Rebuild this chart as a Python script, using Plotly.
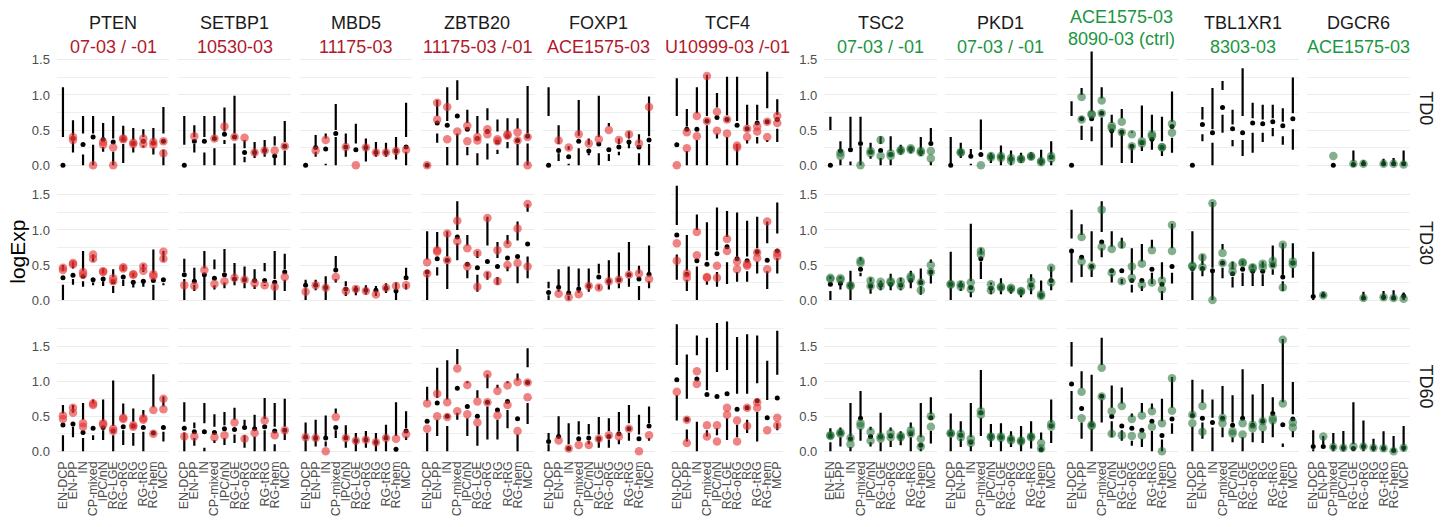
import plotly.graph_objects as go

W, H = 1445, 527
FONT = "Liberation Sans, Arial, sans-serif"

CATS = ["EN-DCP", "EN-PP", "IN", "CP-mixed", "IPC/nN", "RG-LGE", "RG-oRG", "RG", "RG-tRG", "RG-hem", "MCP"]
CATS_TSC2 = ["EN-EN", "EN-PP", "IN", "CP-mixed", "IPC/nN", "RG-LGE", "RG-oRG", "RG", "RG-tRG", "RG-hem", "MCP"]
CATS_DGCR6 = ["EN-DCP", "EN-PP", "CP-mixed", "IPC/nN", "RG-LGE", "RG-oRG", "RG", "RG-tRG", "RG-hem", "MCP"]

TIMES = ["TD0", "TD30", "TD60"]
GENE_NAMES = ["PTEN", "SETBP1", "MBD5", "ZBTB20", "FOXP1", "TCF4", "TSC2", "PKD1", "", "TBL1XR1", "DGCR6"]
SUBTITLES = ["07-03 / -01", "10530-03", "11175-03", "11175-03 /-01", "ACE1575-03", "U10999-03 /-01",
             "07-03 / -01", "07-03 / -01", "8090-03 (ctrl)", "8303-03", "ACE1575-03"]
ACE_TOPLINE = "ACE1575-03"

# box tuples: (lower whisker, Q1, median, Q3, upper whisker); PTS: sample values
PTEN_TD0_BOX = [(0,0,0,0.40,1.11),(0.18,0.34,0.38,0.42,0.64),(0,0.15,0.295,0.45,0.70),(0,0.29,0.40,0.45,0.70),
    (0.19,0.26,0.365,0.40,0.60),(0,0.19,0.33,0.38,0.70),(0.03,0.30,0.37,0.40,0.56),(0.18,0.26,0.31,0.36,0.53),
    (0.25,0.28,0.34,0.40,0.51),(0.15,0.25,0.32,0.36,0.53),(0,0.22,0.34,0.45,0.83)]
PTEN_TD0_PTS = [(),(0.40,0.36),(),(0.0,),(0.33,0.29),(0.25,0.0),(0.38,0.37),(0.32,0.30),(0.38,0.30),(0.33,0.29),(0.34,0.17)]
SETBP1_TD0_BOX = [(0,0,0,0.29,0.70),(0.18,0.30,0.34,0.40,0.57),(0,0.18,0.34,0.40,0.70),(0,0.24,0.38,0.42,0.70),
    (0.30,0.36,0.44,0.48,0.82),(0,0.31,0.40,0.45,0.99),(0.04,0.12,0.18,0.24,0.36),(0.10,0.16,0.18,0.20,0.33),
    (0.12,0.18,0.21,0.23,0.36),(0,0.10,0.13,0.28,0.41),(0,0.21,0.27,0.33,0.63)]
SETBP1_TD0_PTS = [(),(0.41,),(),(0.38,),(0.55,),(0.40,),(0.39,),(0.18,),(0.21,),(0.21,),(0.27,)]
MBD5_TD0_BOX = [(0,0,0,0,0),(0.12,0.19,0.25,0.28,0.43),(0,0.02,0.23,0.38,0.45),(0,0.40,0.45,0.50,0.87),
    (0.12,0.22,0.26,0.30,0.45),(0.18,0.18,0.22,0.31,0.59),(0.05,0.22,0.25,0.28,0.38),(0.12,0.15,0.18,0.21,0.33),
    (0.12,0.15,0.18,0.21,0.32),(0.08,0.17,0.20,0.23,0.40),(0,0.19,0.26,0.40,0.89)]
MBD5_TD0_PTS = [(),(0.21,),(0.36,),(),(0.26,),(0.0,),(0.25,),(0.18,),(0.18,),(0.20,),(0.22,)]
ZBTB20_TD0_BOX = [(0,0,0,0,0),(0.32,0.45,0.60,0.70,0.93),(0,0.26,0.57,0.63,1.11),(0,0.45,0.70,0.93,1.21),
    (0.14,0.26,0.51,0.60,0.79),(0,0.17,0.38,0.45,0.70),(0.08,0.31,0.48,0.64,0.81),(0.16,0.22,0.33,0.48,0.65),
    (0.24,0.33,0.41,0.45,0.67),(0,0.30,0.35,0.52,0.67),(0,0.31,0.41,0.45,1.13)]
ZBTB20_TD0_PTS = [(0.0,),(0.89,0.65),(0.83,0.37),(0.48,),(0.56,0.34),(0.40,0.35),(0.51,0.44),(0.37,0.34),(0.44,0.42),(0.47,0.35),(0.40,0.0)]
FOXP1_TD0_BOX = [(0,0,0,0.70,1.11),(0.06,0.17,0.21,0.30,0.57),(0,0.02,0.12,0.22,0.27),(0,0.24,0.34,0.42,0.93),
    (0.14,0.17,0.20,0.29,0.38),(0,0.17,0.30,0.40,0.99),(0.06,0.16,0.22,0.55,0.60),(0.14,0.19,0.26,0.30,0.38),
    (0.24,0.30,0.33,0.38,0.48),(0,0.17,0.26,0.31,0.44),(0,0.30,0.36,0.41,0.98)]
FOXP1_TD0_PTS = [(),(0.35,),(0.25,),(0.44,),(0.31,),(0.37,),(0.50,),(0.36,),(0.44,),(0.31,),(0.83,)]
TCF4_TD0_BOX = [(0.29,0.29,0.29,0.70,1.24),(0,0.20,0.51,0.55,0.80),(0,0.36,0.51,0.74,1.11),(0,0.57,0.63,0.70,1.29),
    (0.38,0.45,0.68,0.82,1.03),(0,0.40,0.65,0.71,1.26),(0,0.30,0.57,0.63,1.26),(0.31,0.36,0.52,0.57,0.86),
    (0.31,0.40,0.60,0.64,0.86),(0.33,0.36,0.62,0.81,1.33),(0.33,0.52,0.65,0.72,0.94)]
TCF4_TD0_PTS = [(0.0,),(0.47,0.24),(0.70,0.41),(1.27,0.63),(0.76,0.49),(0.65,0.45),(0.28,0.25),(0.52,0.40),(0.55,0.48),(0.62,0.40),(0.70,0.60)]
TSC2_TD0_BOX = [(0,0,0,0.50,0.69),(0,0.08,0.20,0.22,0.34),(0,0.05,0.22,0.25,0.69),(0,0.27,0.31,0.34,0.69),
    (0.09,0.13,0.19,0.23,0.32),(0,0.10,0.21,0.30,0.41),(0,0.08,0.15,0.20,0.41),(0.15,0.19,0.21,0.24,0.29),
    (0.17,0.20,0.23,0.25,0.27),(0.13,0.16,0.185,0.22,0.40),(0,0.05,0.31,0.34,0.53)]
TSC2_TD0_PTS = [(),(0.175,0.13),(),(0.0,),(0.20,0.17),(0.36,0.13),(0.17,0.13),(0.22,0.20),(0.24,0.22),(0.20,0.18),(0.20,0.095)]
PKD1_TD0_BOX = [(0,0,0,0.02,0.40),(0.10,0.16,0.185,0.20,0.32),(0,0.02,0.125,0.15,0.23),(0.12,0.12,0.15,0.22,0.65),
    (0.03,0.09,0.12,0.14,0.175),(0,0.10,0.12,0.15,0.28),(0,0.06,0.09,0.12,0.21),(0.03,0.07,0.09,0.11,0.175),
    (0.08,0.10,0.125,0.14,0.185),(0,0.03,0.05,0.08,0.22),(0,0.06,0.12,0.16,0.34)]
PKD1_TD0_PTS = [(),(0.185,0.18),(),(0.0,),(0.13,0.11),(0.13,0.10),(0.10,0.06),(0.09,0.085),(0.13,0.12),(0.06,0.04),(0.13,0.09)]
ACE_TD0_BOX = [(0,0,0,0.70,0.91),(0.36,0.56,0.66,1.0,1.10),(0.34,0.55,0.66,0.76,1.62),(0,0.68,0.74,0.95,1.11),
    (0.25,0.46,0.49,0.60,0.72),(0.03,0.44,0.47,0.67,0.80),(0.03,0.24,0.27,0.46,0.48),(0.20,0.27,0.32,0.39,0.85),
    (0.22,0.34,0.37,0.46,0.72),(0.13,0.20,0.25,0.34,0.69),(0.175,0.39,0.55,0.62,1.05)]
ACE_TD0_PTS = [(),(0.97,0.65),(0.73,0.72),(0.92,0.74),(0.56,0.53),(0.62,0.47),(0.44,0.27),(0.34,0.31),(0.44,0.41),(0.26,0.25),(0.59,0.46)]
TBL1XR1_TD0_BOX = [(0,0,0,0,0),(0.34,0.44,0.58,0.65,0.83),(0,0.32,0.46,0.51,1.10),(0.46,0.72,0.82,1.07,1.20),
    (0.27,0.36,0.52,0.58,0.79),(0.13,0.36,0.46,0.70,1.38),(0.175,0.46,0.60,0.67,0.89),(0.33,0.46,0.59,0.65,0.86),
    (0.41,0.53,0.62,0.67,0.86),(0.29,0.41,0.56,0.62,0.81),(0.22,0.51,0.66,0.74,1.25)]
TBL1XR1_TD0_PTS = [(),(),(),(),(),(),(),(),(),(),()]
DGCR6_TD0_BOX = [None,None,(0,0,0,0,0),None,(0,0,0.01,0.05,0.21),(0,0,0.02,0.04,0.07),None,
    (0,0,0.02,0.04,0.09),(0,0,0.02,0.04,0.10),(0,0,0.02,0.05,0.21)]
DGCR6_TD0_PTS = [(),(),(0.13,),(),(0.02,),(0.02,),(),(0.02,),(0.02,),(0.01,)]

PTEN_TD30_BOX = [(0,0.22,0.32,0.42,0.50),(0.22,0.30,0.355,0.45,0.55),(0.19,0.27,0.34,0.42,0.70),(0.21,0.25,0.29,0.55,0.65),
    (0.20,0.27,0.30,0.38,0.45),(0.10,0.20,0.26,0.33,0.44),(0.20,0.29,0.33,0.42,0.50),(0.18,0.24,0.255,0.33,0.39),
    (0.19,0.25,0.27,0.40,0.51),(0,0.22,0.28,0.38,0.72),(0.21,0.24,0.29,0.55,0.70)]
PTEN_TD30_PTS = [(0.46,0.43),(0.53,0.51),(0.40,0.36),(0.65,0.59),(0.41,0.40),(0.31,0.27),(0.47,0.45),(0.37,0.36),(0.48,0.42),(0.37,0.34),(0.69,0.59)]
SETBP1_TD30_BOX = [(0,0.30,0.36,0.40,0.59),(0.13,0.22,0.27,0.30,0.46),(0,0.33,0.36,0.45,0.70),(0.15,0.21,0.31,0.44,0.58),
    (0.17,0.25,0.36,0.40,0.73),(0.21,0.27,0.30,0.34,0.53),(0.17,0.25,0.29,0.32,0.48),(0.16,0.21,0.28,0.31,0.44),
    (0.20,0.22,0.28,0.41,0.53),(0,0.21,0.255,0.30,0.70),(0.13,0.29,0.40,0.44,0.66)]
SETBP1_TD30_PTS = [(0.21,),(0.20,),(0.43,),(0.23,),(0.27,),(0.32,),(0.29,),(0.24,),(0.21,),(0.19,),(0.33,)]
MBD5_TD30_BOX = [(0,0.17,0.21,0.24,0.29),(0.14,0.17,0.21,0.23,0.29),(0,0.15,0.18,0.20,0.34),(0.25,0.30,0.43,0.46,0.63),
    (0.06,0.12,0.16,0.20,0.27),(0.07,0.12,0.15,0.17,0.20),(0.08,0.11,0.14,0.17,0.21),(0.06,0.10,0.14,0.16,0.20),
    (0.10,0.15,0.17,0.19,0.24),(0,0.10,0.13,0.15,0.25),(0.15,0.23,0.32,0.34,0.46)]
MBD5_TD30_PTS = [(0.12,),(0.21,),(0.175,),(0.33,),(0.13,),(0.16,),(0.13,),(0.08,),(0.175,),(0.20,),(0.21,)]
ZBTB20_TD30_BOX = [(0,0.36,0.40,0.58,0.98),(0.35,0.47,0.59,0.74,0.97),(0.16,0.52,0.57,0.62,0.98),(0.57,0.81,0.90,1.00,1.41),
    (0.31,0.43,0.51,0.78,0.93),(0.12,0.36,0.46,0.60,0.70),(0.29,0.40,0.55,0.78,1.19),(0.22,0.33,0.48,0.60,0.83),
    (0.41,0.48,0.60,0.80,0.93),(0.24,0.48,0.62,0.85,1.12),(0.31,0.62,0.80,1.26,1.37)]
ZBTB20_TD30_PTS = [(0.54,0.38),(0.71,0.69),(0.95,0.57),(1.13,0.84),(0.74,0.48),(0.67,0.19),(1.17,0.36),(0.71,0.27),(0.80,0.50),(1.02,0.53),(1.37,0.48)]
FOXP1_TD30_BOX = [(0,0.07,0.11,0.17,0.26),(0.12,0.15,0.185,0.21,0.44),(0,0.06,0.10,0.12,0.48),(0.10,0.13,0.16,0.19,0.45),
    (0.12,0.17,0.20,0.22,0.45),(0.15,0.22,0.33,0.38,0.52),(0.15,0.24,0.27,0.30,0.57),(0.17,0.24,0.29,0.33,0.68),
    (0.19,0.31,0.36,0.42,0.83),(0,0.20,0.30,0.38,0.49),(0.17,0.27,0.37,0.40,0.78)]
FOXP1_TD30_PTS = [(),(0.09,),(0.04,),(0.085,),(0.20,),(0.18,),(0.27,),(0.29,),(0.36,),(0.38,),(0.30,)]
TCF4_TD30_BOX = [(0.29,0.65,0.93,1.07,1.63),(0.13,0.29,0.37,0.42,0.93),(0,0.48,0.56,1.00,1.22),(0.22,0.27,0.51,0.57,1.11),
    (0.19,0.40,0.66,0.71,1.32),(0.23,0.54,0.76,0.90,1.27),(0.26,0.40,0.59,0.62,1.25),(0.26,0.41,0.56,0.62,1.13),
    (0.38,0.55,0.69,0.74,1.19),(0.16,0.41,0.57,0.81,1.12),(0.38,0.60,0.70,0.95,1.39)]
TCF4_TD30_PTS = [(0.81,0.56),(0.38,0.32),(0.97,0.64),(0.33,0.32),(0.49,0.32),(0.87,0.70),(0.55,0.44),(0.51,0.49),(0.68,0.60),(1.12,0.44),(0.67,0.62)]
TSC2_TD30_BOX = [(0,0.13,0.225,0.30,0.34),(0.15,0.20,0.235,0.30,0.34),(0,0.19,0.21,0.23,0.42),(0.34,0.39,0.44,0.56,0.61),
    (0.09,0.17,0.20,0.26,0.32),(0.14,0.19,0.215,0.25,0.28),(0.14,0.20,0.225,0.28,0.375),(0.14,0.17,0.21,0.26,0.32),
    (0.17,0.25,0.28,0.34,0.42),(0.075,0.20,0.25,0.29,0.45),(0.235,0.37,0.40,0.53,0.58)]
TSC2_TD30_PTS = [(0.32,0.30),(0.31,0.29),(0.20,0.21),(0.56,0.53),(0.28,0.20),(0.26,0.20),(0.27,0.25),(0.27,0.20),(0.34,0.31),(0.25,0.14),(0.50,0.40)]
PKD1_TD30_BOX = [(0,0.18,0.225,0.27,0.69),(0.13,0.17,0.21,0.24,0.27),(0.04,0.12,0.18,0.27,1.09),(0.30,0.55,0.59,0.66,0.74),
    (0.085,0.14,0.17,0.22,0.25),(0.085,0.15,0.18,0.22,0.31),(0.09,0.13,0.155,0.18,0.20),(0.04,0.10,0.12,0.14,0.15),
    (0.085,0.17,0.21,0.27,0.37),(0.02,0.04,0.07,0.12,0.28),(0.14,0.23,0.28,0.32,0.48)]
PKD1_TD30_PTS = [(0.23,0.22),(0.225,0.19),(0.25,0.155),(0.70,0.65),(0.225,0.14),(0.19,0.18),(0.175,0.16),(0.13,0.12),(0.27,0.19),(0.085,0.06),(0.46,0.25)]
ACE_TD30_BOX = [(0.25,0.67,0.70,0.88,1.29),(0.33,0.51,0.61,0.93,1.08),(0.33,0.44,0.48,0.55,0.98),(0.61,0.74,0.83,0.97,1.41),
    (0.25,0.37,0.42,0.76,0.98),(0.23,0.30,0.42,0.74,0.89),(0.11,0.22,0.28,0.36,0.74),(0.13,0.20,0.28,0.55,0.80),
    (0.23,0.39,0.44,0.74,0.86),(0,0.13,0.225,0.30,0.54),(0.235,0.39,0.48,0.74,1.09)]
ACE_TD30_PTS = [(),(0.90,0.55),(0.48,),(1.29,0.76),(0.73,0.39),(0.79,0.27),(0.48,0.32),(0.52,0.22),(0.71,0.25),(0.28,0.155),(1.07,0.70)]
TBL1XR1_TD30_BOX = [(0,0.41,0.45,0.52,0.98),(0.34,0.42,0.45,0.50,0.65),(0,0.39,0.42,0.46,1.40),(0.31,0.46,0.53,0.72,0.80),
    (0.18,0.33,0.375,0.44,0.55),(0.20,0.39,0.44,0.50,0.56),(0.20,0.38,0.41,0.46,0.51),(0.20,0.37,0.41,0.46,0.55),
    (0.36,0.44,0.50,0.56,0.78),(0.13,0.27,0.33,0.36,0.81),(0.32,0.46,0.53,0.58,0.81)]
TBL1XR1_TD30_PTS = [(0.49,0.48),(0.61,0.47),(1.38,0.0),(0.67,0.53),(0.49,0.41),(0.54,0.53),(0.47,0.45),(0.52,0.47),(0.56,0.50),(0.79,0.18),(0.55,0.51)]
DGCR6_TD30_BOX = [(0,0.02,0.05,0.08,0.69),(0.05,0.06,0.07,0.09,0.12),None,None,None,(0,0.02,0.03,0.05,0.12),None,
    (0,0.02,0.04,0.06,0.13),(0,0.02,0.03,0.05,0.14),(0,0.03,0.06,0.08,0.11)]
DGCR6_TD30_PTS = [(),(0.07,),(),(),(),(0.03,),(),(0.04,),(0.03,),(0.02,)]

PTEN_TD60_BOX = [(0,0.23,0.375,0.54,0.66),(0.20,0.35,0.39,0.55,0.66),(0,0.19,0.27,0.45,0.69),(0.16,0.23,0.33,0.68,0.74),
    (0.16,0.30,0.34,0.43,0.74),(0,0.23,0.29,0.36,1.01),(0.09,0.30,0.35,0.52,0.68),(0.08,0.26,0.36,0.42,0.61),
    (0,0.28,0.34,0.49,0.59),(0.21,0.21,0.26,0.63,1.10),(0.14,0.28,0.34,0.64,0.78)]
PTEN_TD60_PTS = [(0.51,0.46),(0.62,0.55),(0.40,0.35),(0.68,0.66),(0.40,0.38),(0.32,0.29),(0.48,0.46),(0.37,0.35),(0.47,0.45),(0.59,0.25),(0.75,0.60)]
SETBP1_TD60_BOX = [(0,0.27,0.33,0.42,0.70),(0.08,0.19,0.28,0.33,0.41),(0,0.05,0.28,0.40,0.69),(0.12,0.16,0.27,0.35,0.53),
    (0.09,0.19,0.32,0.37,0.56),(0.12,0.24,0.31,0.45,0.62),(0.05,0.23,0.34,0.37,0.45),(0,0.21,0.32,0.34,0.52),
    (0,0.30,0.35,0.46,0.76),(0,0.10,0.29,0.35,0.69),(0.16,0.26,0.30,0.35,0.75)]
SETBP1_TD60_PTS = [(0.21,),(0.21,),(),(0.20,),(0.23,),(0.41,),(0.18,),(0.26,),(0.44,),(0.23,),(0.30,)]
MBD5_TD60_BOX = [(0,0.16,0.20,0.23,0.41),(0.07,0.16,0.19,0.22,0.45),(0.07,0.14,0.19,0.22,0.51),(0.19,0.30,0.34,0.54,0.61),
    (0.05,0.14,0.19,0.22,0.37),(0,0.12,0.15,0.18,0.26),(0.05,0.13,0.165,0.19,0.29),(0,0.10,0.13,0.16,0.26),
    (0,0.15,0.19,0.22,0.38),(0,0.01,0.03,0.22,0.70),(0.16,0.21,0.29,0.33,0.57)]
MBD5_TD60_PTS = [(0.20,),(0.19,),(0.0,),(0.49,),(0.19,),(0.15,),(0.165,),(0.13,),(0.19,),(0.18,),(0.245,)]
ZBTB20_TD60_BOX = [(0,0.26,0.43,0.72,0.92),(0.22,0.45,0.69,0.76,1.19),(0,0.36,0.50,0.74,1.30),(0.45,0.55,0.90,1.24,1.46),
    (0.22,0.47,0.64,0.97,1.00),(0.08,0.36,0.50,0.76,0.87),(0.17,0.64,0.70,0.90,1.10),(0.17,0.45,0.59,0.90,0.95),
    (0.33,0.59,0.71,0.97,1.00),(0,0.24,0.465,1.01,1.11),(0.39,0.69,0.98,1.20,1.47)]
ZBTB20_TD60_PTS = [(0.68,0.32),(0.82,0.50),(0.70,0.49),(1.18,0.57),(0.945,0.53),(0.71,0.41),(1.10,0.70),(0.86,0.51),(0.94,0.66),(0.99,0.29),(0.98,0.77)]
FOXP1_TD60_BOX = [(0,0.10,0.14,0.17,0.26),(0.12,0.12,0.21,0.23,0.50),(0.02,0.02,0.04,0.10,0.40),(0.12,0.12,0.18,0.24,0.43),
    (0.10,0.15,0.19,0.24,0.39),(0.05,0.15,0.18,0.24,0.49),(0.05,0.17,0.21,0.29,0.47),(0.10,0.17,0.25,0.29,0.56),
    (0.15,0.26,0.32,0.40,0.66),(0.13,0.13,0.18,0.24,0.52),(0.15,0.19,0.36,0.40,0.64)]
FOXP1_TD60_PTS = [(),(0.155,),(0.04,),(0.09,),(0.09,),(0.18,),(0.23,),(0.21,),(0.32,),(0.0,),(0.23,)]
TCF4_TD60_BOX = [(0.44,0.80,1.02,1.23,1.81),(0.14,0.31,0.455,0.75,1.38),(0,0.42,1.03,1.37,1.65),(0.21,0.30,0.81,0.87,1.62),
    (0.23,0.33,0.78,1.13,1.83),(0.16,0.47,0.82,1.16,1.85),(0.20,0.38,0.60,0.82,1.63),(0.26,0.45,0.62,0.82,1.67),
    (0.14,0.56,0.72,0.97,1.65),(0.40,0.40,0.48,0.73,1.29),(0.30,0.40,0.76,1.09,1.72)]
TCF4_TD60_PTS = [(0.85,),(0.45,0.12),(1.14,0.96),(0.37,0.21),(0.37,0.14),(0.62,0.52),(0.44,0.14),(0.62,0.36),(0.70,0.62),(0.30,),(0.48,0.37)]
TSC2_TD60_BOX = [(0,0.13,0.22,0.25,0.33),(0.07,0.20,0.26,0.29,0.34),(0,0.06,0.18,0.22,0.69),(0.15,0.32,0.47,0.50,0.86),
    (0.07,0.13,0.21,0.30,0.35),(0,0.13,0.21,0.25,0.55),(0.06,0.15,0.22,0.29,0.34),(0.085,0.18,0.21,0.25,0.285),
    (0,0.20,0.25,0.33,0.41),(0,0.04,0.085,0.20,0.69),(0.11,0.29,0.48,0.53,0.77)]
TSC2_TD60_PTS = [(0.23,0.22),(0.27,0.25),(0.19,0.10),(0.40,0.36),(0.28,0.15),(0.21,0.18),(0.26,0.20),(0.22,0.20),(0.30,0.25),(0.18,0.07),(0.50,0.35)]
PKD1_TD60_BOX = [(0,0.20,0.25,0.29,0.54),(0.06,0.18,0.23,0.27,0.43),(0,0.08,0.13,0.20,0.69),(0.22,0.48,0.55,0.60,1.16),
    (0.06,0.18,0.21,0.24,0.39),(0,0.15,0.20,0.24,0.40),(0.06,0.13,0.175,0.21,0.285),(0,0.11,0.145,0.17,0.36),
    (0.04,0.18,0.21,0.24,0.43),(0,0,0.025,0.16,0.27),(0.12,0.29,0.36,0.41,0.74)]
PKD1_TD60_PTS = [(0.26,0.25),(0.25,0.20),(0.18,0.12),(0.57,0.52),(0.21,0.20),(0.21,0.19),(0.18,0.155),(0.155,0.14),(0.21,0.20),(0.12,0.04),(0.39,0.35)]
ACE_TD60_BOX = [(0.46,0.86,0.96,1.21,1.56),(0.18,0.41,0.61,0.90,1.14),(0,0.32,0.38,0.41,1.09),(0.41,0.74,0.785,1.23,1.62),
    (0.20,0.43,0.495,0.62,0.94),(0.15,0.30,0.36,0.68,0.91),(0.08,0.15,0.33,0.49,0.54),(0.06,0.18,0.30,0.55,0.69),
    (0,0.29,0.43,0.60,0.68),(0,0.17,0.225,0.43,0.75),(0.25,0.40,0.46,0.62,1.06)]
ACE_TD60_PTS = [(),(0.85,0.47),(0.38,0.36),(1.19,0.78),(0.57,0.25),(0.645,0.23),(0.46,0.22),(0.51,0.225),(0.57,0.35),(0.40,0.0),(1.04,0.58)]
TBL1XR1_TD60_BOX = [(0,0.35,0.51,0.55,1.02),(0.18,0.41,0.47,0.69,0.88),(0,0.34,0.41,0.48,0.74),(0.20,0.34,0.47,0.53,0.93),
    (0.13,0.20,0.37,0.41,0.80),(0,0.20,0.47,0.50,1.17),(0.13,0.27,0.37,0.41,0.81),(0.12,0.29,0.43,0.46,0.96),
    (0.20,0.41,0.54,0.56,0.77),(0.06,0.11,0.38,0.70,1.60),(0.20,0.29,0.46,0.53,0.99)]
TBL1XR1_TD60_PTS = [(0.52,0.40),(0.645,0.28),(),(0.48,0.40),(0.285,0.25),(0.40,0.24),(0.38,0.33),(0.43,0.34),(0.47,0.44),(1.59,0.68),(0.41,0.34)]
DGCR6_TD60_BOX = [(0,0.03,0.07,0.10,0.30),(0.05,0.06,0.07,0.10,0.22),(0,0.04,0.06,0.10,0.26),(0,0.03,0.05,0.08,0.29),
    (0,0.02,0.04,0.10,0.70),(0,0.05,0.07,0.10,0.44),(0,0.03,0.05,0.08,0.18),(0,0.03,0.045,0.07,0.285),
    (0,0,0.01,0.03,0.22),(0,0.03,0.05,0.09,0.36)]
DGCR6_TD60_PTS = [(),(0.21,),(0.06,),(0.05,),(0.07,),(0.07,),(0.05,),(0.045,),(0.0,),(0.05,)]

# ---------- tables built from the lists above ----------
CAT_SETS = [CATS] * 6 + [CATS_TSC2, CATS, CATS, CATS, CATS_DGCR6]
BOXES = [
    [PTEN_TD0_BOX, PTEN_TD30_BOX, PTEN_TD60_BOX],
    [SETBP1_TD0_BOX, SETBP1_TD30_BOX, SETBP1_TD60_BOX],
    [MBD5_TD0_BOX, MBD5_TD30_BOX, MBD5_TD60_BOX],
    [ZBTB20_TD0_BOX, ZBTB20_TD30_BOX, ZBTB20_TD60_BOX],
    [FOXP1_TD0_BOX, FOXP1_TD30_BOX, FOXP1_TD60_BOX],
    [TCF4_TD0_BOX, TCF4_TD30_BOX, TCF4_TD60_BOX],
    [TSC2_TD0_BOX, TSC2_TD30_BOX, TSC2_TD60_BOX],
    [PKD1_TD0_BOX, PKD1_TD30_BOX, PKD1_TD60_BOX],
    [ACE_TD0_BOX, ACE_TD30_BOX, ACE_TD60_BOX],
    [TBL1XR1_TD0_BOX, TBL1XR1_TD30_BOX, TBL1XR1_TD60_BOX],
    [DGCR6_TD0_BOX, DGCR6_TD30_BOX, DGCR6_TD60_BOX],
]
POINTS = [
    [PTEN_TD0_PTS, PTEN_TD30_PTS, PTEN_TD60_PTS],
    [SETBP1_TD0_PTS, SETBP1_TD30_PTS, SETBP1_TD60_PTS],
    [MBD5_TD0_PTS, MBD5_TD30_PTS, MBD5_TD60_PTS],
    [ZBTB20_TD0_PTS, ZBTB20_TD30_PTS, ZBTB20_TD60_PTS],
    [FOXP1_TD0_PTS, FOXP1_TD30_PTS, FOXP1_TD60_PTS],
    [TCF4_TD0_PTS, TCF4_TD30_PTS, TCF4_TD60_PTS],
    [TSC2_TD0_PTS, TSC2_TD30_PTS, TSC2_TD60_PTS],
    [PKD1_TD0_PTS, PKD1_TD30_PTS, PKD1_TD60_PTS],
    [ACE_TD0_PTS, ACE_TD30_PTS, ACE_TD60_PTS],
    [TBL1XR1_TD0_PTS, TBL1XR1_TD30_PTS, TBL1XR1_TD60_PTS],
    [DGCR6_TD0_PTS, DGCR6_TD30_PTS, DGCR6_TD60_PTS],
]

# ---------- layout geometry (pixels) ----------
RED_TXT, GREEN_TXT = "#B2182B", "#1A9641"
RED_PT, GREEN_PT = "rgba(228,48,48,0.6)", "rgba(30,110,50,0.55)"
X0 = [56, 177.5, 299, 420.7, 542.3, 670.7, 824.5, 945, 1066, 1187, 1308]
STEP = 10.06  # px per category
TOP, GAP, UNIT = 46.0, 9.3, 70.4

YR = []
for r in range(3):
    mx = max(b[4] for g in BOXES for b in g[r] if b is not None)
    mx = max(mx, max(v for g in POINTS for p in g[r] for v in p))
    YR.append([-0.05 * mx, 1.05 * mx])
Y0, Y1 = [], []
y = TOP
for r in range(3):
    h = (YR[r][1] - YR[r][0]) * UNIT
    Y0.append(y); Y1.append(y + h)
    y += h + GAP

fig = go.Figure()
lay = {}
for r in range(3):
    for c in range(11):
        k = r * 11 + c + 1
        xa = "x" if k == 1 else f"x{k}"
        ya = "y" if k == 1 else f"y{k}"
        cats = CAT_SETS[c]
        sx, sy, mx_, my_, px_, py_ = [], [], [], [], [], []
        for cat, b in zip(cats, BOXES[c][r]):
            if b is None:
                continue
            lo, q1, md, q3, hi = b
            if q1 > lo:
                sx += [cat, cat, None]; sy += [lo, q1, None]
            if hi > q3:
                sx += [cat, cat, None]; sy += [q3, hi, None]
            mx_.append(cat); my_.append(md)
        for cat, p in zip(cats, POINTS[c][r]):
            for v in p:
                px_.append(cat); py_.append(v)
        fig.add_trace(go.Scatter(x=sx, y=sy, mode="lines", line=dict(color="black", width=2.2),
                                 xaxis=xa, yaxis=ya, hoverinfo="skip", showlegend=False))
        fig.add_trace(go.Scatter(x=mx_, y=my_, mode="markers", marker=dict(color="black", size=5),
                                 xaxis=xa, yaxis=ya, showlegend=False))
        fig.add_trace(go.Scatter(x=px_, y=py_, mode="markers",
                                 marker=dict(color=RED_PT if c < 6 else GREEN_PT, size=8.5, line=dict(width=0)),
                                 xaxis=xa, yaxis=ya, showlegend=False))
        n = len(cats)
        x0 = X0[c]; x1 = x0 + (n - 1 + 1.2) * STEP
        lay["xaxis" if k == 1 else f"xaxis{k}"] = dict(
            domain=[x0 / W, x1 / W], anchor=ya, type="category", categoryorder="array",
            categoryarray=cats, range=[-0.6, n - 0.4], showgrid=False, zeroline=False, showline=False,
            tickmode="array", tickvals=cats, ticktext=cats,
            ticks="", showticklabels=(r == 2), tickangle=-90,
            tickfont=dict(size=12.5, color="#4D4D4D", family=FONT), fixedrange=True)
        lay["yaxis" if k == 1 else f"yaxis{k}"] = dict(
            domain=[1 - Y1[r] / H, 1 - Y0[r] / H], anchor=xa, range=YR[r],
            tickvals=[0, 0.5, 1.0, 1.5], ticktext=["0.0", "0.5", "1.0", "1.5"],
            showticklabels=(c in (0, 6)), ticks="", ticklabelstandoff=6,
            tickfont=dict(size=13, color="#4D4D4D", family=FONT),
            showgrid=True, gridcolor="#EBEBEB", gridwidth=1.1, zeroline=False, showline=False,
            minor=dict(dtick=0.25, tick0=0, showgrid=True, gridcolor="#EFEFEF", gridwidth=0.9),
            fixedrange=True)


def note(text, x, y, size, color, angle=0):
    return dict(text=text, x=x / W, y=1 - y / H, xref="paper", yref="paper", xanchor="center",
                yanchor="middle", showarrow=False, textangle=angle,
                font=dict(size=size, color=color, family=FONT))


ann = []
for c in range(11):
    n = len(CAT_SETS[c])
    xc = X0[c] + (n + 0.2) * STEP / 2
    color = RED_TXT if c < 6 else GREEN_TXT
    if GENE_NAMES[c]:
        ann.append(note(GENE_NAMES[c], xc, 23, 18, "#1A1A1A"))
        ann.append(note(SUBTITLES[c], xc, 47, 18, color))
    else:
        ann.append(note(ACE_TOPLINE, xc, 17, 18, color))
        ann.append(note(SUBTITLES[c], xc, 39, 18, color))
for r in range(3):
    ann.append(note(TIMES[r], 1427, (Y0[r] + Y1[r]) / 2, 18, "#1A1A1A", 90))
ann.append(note("logExp", 17, (Y0[0] + Y1[2]) / 2, 21, "black", -90))

fig.update_layout(width=W, height=H, margin=dict(l=0, r=0, t=0, b=0),
                  paper_bgcolor="white", plot_bgcolor="white", annotations=ann,
                  font=dict(family=FONT), **lay)
fig.write_html("out.html")
